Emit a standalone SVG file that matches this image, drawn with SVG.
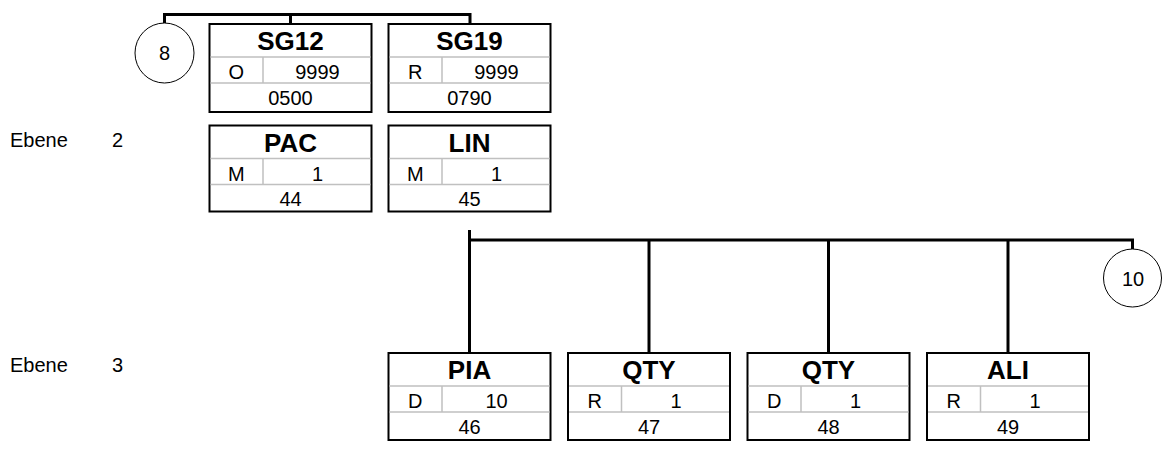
<svg xmlns="http://www.w3.org/2000/svg" width="1163" height="451" viewBox="0 0 1163 451">
<defs>
<style>
.bx{fill:#fff;stroke:#000;stroke-width:2}
.dv{stroke:#c0c0c0;stroke-width:1.5;fill:none}
.t{font-family:"Liberation Sans",Arial,sans-serif;font-size:20px;fill:#000;text-anchor:middle}
.tl{font-family:"Liberation Sans",Arial,sans-serif;font-size:20px;fill:#000}
.h{font-family:"Liberation Sans",Arial,sans-serif;font-size:26px;font-weight:bold;fill:#000;text-anchor:middle}
.cn{stroke:#000;stroke-width:3;fill:none}
.ci{fill:#fff;stroke:#000;stroke-width:1}
</style>
</defs>
<rect width="1163" height="451" fill="#fff"/>
<g id="labels">
<text class="tl" x="10" y="147">Ebene</text><text class="tl" x="112" y="147">2</text>
<text class="tl" x="10" y="372">Ebene</text><text class="tl" x="112" y="372">3</text>
</g>
<g id="connectors">
<path class="cn" d="M164.5 23 V14.5 H470 V24"/>
<path class="cn" d="M290.5 14.5 V24"/>
<path class="cn" d="M469.5 230 V353"/>
<path class="cn" d="M469.5 240 H1132.5 V249"/>
<path class="cn" d="M649 240 V353"/>
<path class="cn" d="M828.5 240 V353"/>
<path class="cn" d="M1008 240 V353"/>
</g>
<g id="c8"><ellipse class="ci" cx="164.5" cy="53" rx="29.5" ry="30"/><text class="t" x="164.5" y="60">8</text></g>
<g id="c10"><ellipse class="ci" cx="1132.5" cy="278" rx="29" ry="29"/><text class="t" x="1133" y="286">10</text></g>
<g id="SG12" transform="translate(209.5,24)">
<rect class="bx" width="162" height="88"/><path class="dv" d="M1 33H161M1 59H161M53.5 33V59"/>
<text class="h" x="81" y="26">SG12</text><text class="t" x="26.75" y="55">O</text><text class="t" x="108" y="55">9999</text><text class="t" x="81" y="80.5">0500</text>
</g>
<g id="SG19" transform="translate(388.5,24)">
<rect class="bx" width="162" height="88"/><path class="dv" d="M1 33H161M1 59H161M53.5 33V59"/>
<text class="h" x="81" y="26">SG19</text><text class="t" x="26.75" y="55">R</text><text class="t" x="108" y="55">9999</text><text class="t" x="81" y="80.5">0790</text>
</g>
<g id="PAC" transform="translate(209.5,125.5)">
<rect class="bx" width="162" height="86"/><path class="dv" d="M1 33H161M1 59H161M53.5 33V59"/>
<text class="h" x="81" y="26">PAC</text><text class="t" x="26.75" y="55">M</text><text class="t" x="108" y="55">1</text><text class="t" x="81" y="80">44</text>
</g>
<g id="LIN" transform="translate(388.5,125.5)">
<rect class="bx" width="162" height="86"/><path class="dv" d="M1 33H161M1 59H161M53.5 33V59"/>
<text class="h" x="81" y="26">LIN</text><text class="t" x="26.75" y="55">M</text><text class="t" x="108" y="55">1</text><text class="t" x="81" y="80">45</text>
</g>
<g id="PIA" transform="translate(388.5,353)">
<rect class="bx" width="162" height="87"/><path class="dv" d="M1 33H161M1 59H161M53.5 33V59"/>
<text class="h" x="81" y="26">PIA</text><text class="t" x="26.75" y="54.5">D</text><text class="t" x="108" y="54.5">10</text><text class="t" x="81" y="80.5">46</text>
</g>
<g id="QTY47" transform="translate(568,353)">
<rect class="bx" width="162" height="87"/><path class="dv" d="M1 33H161M1 59H161M53.5 33V59"/>
<text class="h" x="81" y="26">QTY</text><text class="t" x="26.75" y="54.5">R</text><text class="t" x="108" y="54.5">1</text><text class="t" x="81" y="80.5">47</text>
</g>
<g id="QTY48" transform="translate(747.5,353)">
<rect class="bx" width="162" height="87"/><path class="dv" d="M1 33H161M1 59H161M53.5 33V59"/>
<text class="h" x="81" y="26">QTY</text><text class="t" x="26.75" y="54.5">D</text><text class="t" x="108" y="54.5">1</text><text class="t" x="81" y="80.5">48</text>
</g>
<g id="ALI" transform="translate(927,353)">
<rect class="bx" width="162" height="87"/><path class="dv" d="M1 33H161M1 59H161M53.5 33V59"/>
<text class="h" x="81" y="26">ALI</text><text class="t" x="26.75" y="54.5">R</text><text class="t" x="108" y="54.5">1</text><text class="t" x="81" y="80.5">49</text>
</g>
</svg>
